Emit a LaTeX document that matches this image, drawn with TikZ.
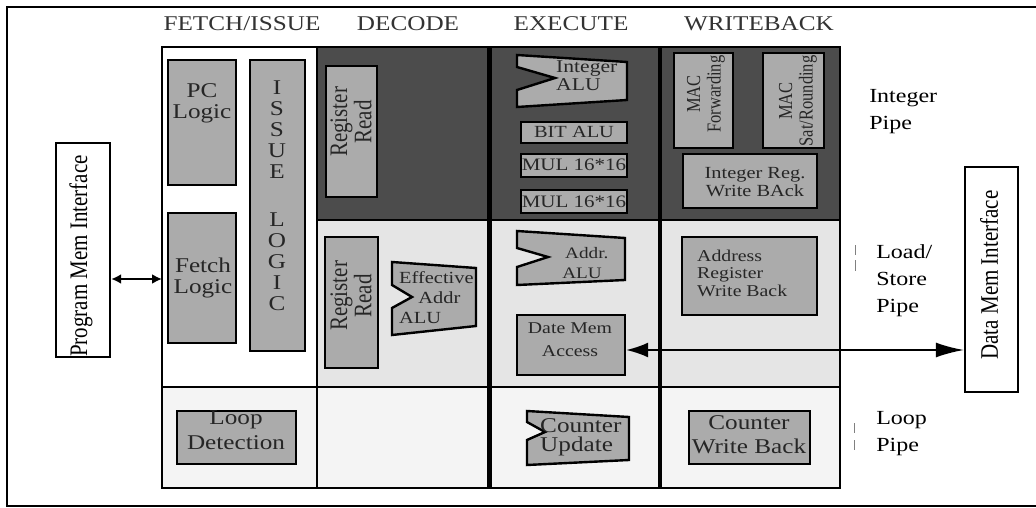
\documentclass[tikz,border=0pt]{standalone}
\usepackage{fontspec}
\setmainfont{Liberation Serif}
\usetikzlibrary{arrows.meta}

\definecolor{intgray}{gray}{0.30}
\definecolor{boxgray}{gray}{0.67}
\definecolor{lsgray}{gray}{0.90}
\definecolor{loopgray}{gray}{0.955}

\begin{document}
\begin{tikzpicture}[x=1pt,y=-1pt,
    box/.style={draw,line width=2.4pt,fill=boxgray,inner sep=0pt},
    iface/.style={draw,line width=2.4pt,fill=white,inner sep=0pt},
    alu/.style={draw,line width=2.4pt,fill=boxgray},
    lbl/.style 2 args={font=\fontsize{#1}{#2}\selectfont,text=black!85,align=center,inner sep=0pt,xscale=1.2},
    rlbl/.style 2 args={font=\fontsize{#1}{#2}\selectfont,text=black!85,align=center,inner sep=0pt,rotate=90,yscale=1.2},
    hdr/.style={font=\fontsize{21}{24}\selectfont,text=black!80,inner sep=0pt,xscale=1.2,anchor=base},
    pipe/.style={font=\fontsize{20}{27}\selectfont,align=left,inner sep=0pt,xscale=1.2,anchor=west},
    dbl/.style={line width=2.4pt,{Latex[length=10pt,width=10pt]}-{Latex[length=10pt,width=10pt]}},
    big/.style={line width=1.8pt,{Latex[length=22pt,width=15pt]}-{Latex[length=28pt,width=15pt]}}]
\useasboundingbox (0,0) rectangle (1036,508);
% frame
\draw[line width=2pt] (1036,7) -- (7,7) -- (7,506) -- (1036,506);

% stage headers
\node[hdr] (h_fetch) at (242,31) {FETCH/ISSUE};
\node[hdr] (h_dec) at (408,31) {DECODE};
\node[hdr] (h_exe) at (571,31) {EXECUTE};
\node[hdr] (h_wb) at (759,31) {WRITEBACK};

% pipe grid
\fill[white] (162,47) rectangle (317,387);
\fill[intgray] (317,47) rectangle (840,220);
\fill[lsgray] (317,220) rectangle (840,387);
\fill[loopgray] (162,387) rectangle (840,488);
\draw[line width=2.5pt] (162,47) rectangle (840,488);
\draw[line width=2pt] (317,47) -- (317,488);
\draw[line width=5pt] (489,47) -- (489,488);
\draw[line width=3.5pt] (660,47) -- (660,488);
\draw[line width=2.5pt] (317,220) -- (840,220);
\draw[line width=2.5pt] (162,387) -- (840,387);

% fetch/issue
\node[box,minimum width=68pt,minimum height=125pt] (pc) at (202,122.5) {};
\node[lbl={21}{21}] (pc_t) at (202,103) {PC\\Logic};
\node[box,minimum width=68pt,minimum height=130pt] (fl) at (202,278) {};
\node[lbl={21}{21}] (fl_t) at (203,277.5) {Fetch\\Logic};
\node[box,minimum width=55pt,minimum height=291pt] (iss) at (277.5,205.5) {};
\node[lbl={21}{21}] (iss_t) at (277,196) {I\\S\\S\\U\\E\\[27pt]L\\O\\G\\I\\C};

% decode
\node[box,minimum width=51pt,minimum height=131pt] (rr1) at (351.5,131.5) {};
\node[rlbl={21}{19}] (rr1_t) at (351,122) {Register\\Read};
\node[box,minimum width=53pt,minimum height=131pt] (rr2) at (351.5,302.5) {};
\node[rlbl={21}{19}] (rr2_t) at (351,296) {Register\\Read};
\draw[alu] (392,262) -- (476,268) -- (476,326) -- (392,335) -- (392,308) -- (412,297) -- (392,285) -- cycle;
\node[lbl={17}{20},align=left,anchor=west] (eff_t) at (399,298) {Effective\\\hspace*{16pt}Addr\\ALU};

% execute
\draw[alu] (517,55) -- (627,62) -- (627,100) -- (517,107) -- (517,90) -- (555,78) -- (517,67) -- cycle;
\node[lbl={18}{18},align=left,anchor=west] (int_t) at (556,76) {Integer\\ALU};
\node[box,minimum width=106pt,minimum height=21pt] (bit) at (574,132.5) {};
\node[lbl={17}{17},anchor=base] (bit_t) at (574,138) {BIT ALU};
\node[box,minimum width=106pt,minimum height=23pt] (mul1) at (574,165.5) {};
\node[lbl={17.5}{17.5},anchor=base] (mul1_t) at (574,171) {MUL 16*16};
\node[box,minimum width=106pt,minimum height=23pt] (mul2) at (574,201.5) {};
\node[lbl={17.5}{17.5},anchor=base] (mul2_t) at (574,207) {MUL 16*16};
\draw[alu] (517,231) -- (625,238) -- (625,280) -- (517,285) -- (517,267) -- (548,257) -- (517,248) -- cycle;
\node[lbl={16}{20}] (addr_t) at (582,263) {\hspace*{8pt}Addr.\\ALU};
\node[box,minimum width=108pt,minimum height=60pt] (dma) at (571,345) {};
\node[lbl={16.5}{23}] (dma_t) at (570,340) {Date Mem\\Access};

% writeback
\node[box,minimum width=59pt,minimum height=95pt] (mac1) at (703.5,100.5) {};
\node[rlbl={16.5}{17}] (mac1_t) at (706,94) {MAC\\Forwarding};
\node[box,minimum width=61pt,minimum height=95pt] (mac2) at (793.5,100.5) {};
\node[rlbl={16.5}{17}] (mac2_t) at (798,101) {MAC\\Sat/Rounding};
\node[box,minimum width=134pt,minimum height=54pt] (irw) at (750,181) {};
\node[lbl={17}{17.5}] (irw_t) at (755,182) {Integer Reg.\\Write BAck};
\node[box,minimum width=135pt,minimum height=78pt] (arw) at (749.5,276) {};
\node[lbl={16.5}{17.5},align=left,anchor=west] (arw_t) at (697,273) {Address\\Register\\Write Back};

% loop row
\node[box,minimum width=119pt,minimum height=53pt] (ld) at (236.5,437.5) {};
\node[lbl={21}{25}] (ld_t) at (236,430) {Loop\\Detection};
\draw[alu] (527,411) -- (629,417) -- (629,460) -- (527,465) -- (527,440) -- (545,432) -- (527,422) -- cycle;
\node[lbl={21}{19.5},align=left,anchor=west] (cu_t) at (540,437.5) {Counter\\Update};
\node[box,minimum width=121pt,minimum height=53pt] (cwb) at (749.5,437.5) {};
\node[lbl={21}{24}] (cwb_t) at (749,435) {Counter\\Write Back};

% pipe names
\node[pipe] (ip_t) at (869,112) {Integer\\Pipe};
\node[pipe] (ls_t) at (876,281) {Load/\\Store\\Pipe};
\node[pipe] (lp_t) at (876,433.5) {Loop\\Pipe};
\draw[gray,line width=1pt] (855,245) -- (855,255) (855,260) -- (855,271)
    (854,423) -- (854,433) (854,440) -- (854,450);

% memory interfaces
\node[iface,minimum width=54pt,minimum height=214pt] (pmi) at (83,250) {};
\node[rlbl={21}{21},text=black] (pmi_t) at (81,256) {Program Mem Interface};
\node[iface,minimum width=53pt,minimum height=225pt] (dmi) at (991.5,279.5) {};
\node[rlbl={21}{21},text=black] (dmi_t) at (989,275) {Data Mem Interface};

\coordinate (fe) at (162,279);
\coordinate (dm) at ([yshift=-5pt]dma.east);
\draw[dbl] (pmi.east |- fe) -- (fe);
\draw[big] (dm) -- (dmi.west |- dm);
\end{tikzpicture}
\end{document}
